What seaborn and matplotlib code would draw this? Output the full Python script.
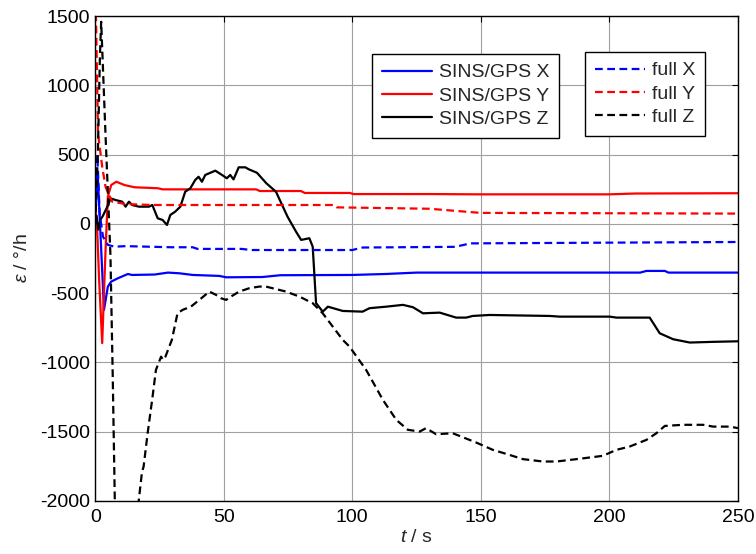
import numpy as np
import pandas as pd
import matplotlib
matplotlib.use("Agg")
import matplotlib.pyplot as plt
import seaborn as sns

# Drift estimate of the gyro bias, SINS/GPS filter vs. full-state filter
sins_x_t = [0, 0.5, 0.9, 1.6, 3.4, 4.9, 6.2, 8.8, 12.7, 14.3, 23.1, 28.3, 32.7, 37.9,
            48.3, 50.9, 65, 72, 100, 113, 125, 212, 214.4, 221.6, 223, 250]
sins_x_v = [-20, 250, 380, 100, -620, -452, -416, -392, -361, -368, -365, -351, -356, -368,
            -375, -385, -383, -370, -368, -361, -351, -351, -339, -339, -351, -351]

sins_y_t = [0, 0.6, 1.5, 2.7, 4.0, 4.9, 6.2, 8.2, 11.4, 15.3, 24.4, 26.2, 62.6, 64,
            80, 81.5, 99, 100.5, 130, 150, 200, 210, 250]
sins_y_v = [100, 30, -400, -860, -190, 197, 281, 305, 281, 265, 258, 250, 250, 238,
            238, 224, 224, 216, 216, 214, 214, 220, 222]

sins_z_t = [0, 0.5, 1.2, 2.0, 3.0, 4.7, 6.0, 7.9, 10.5, 11.8, 13.1, 14.4, 17, 20.9, 22.2,
            24.3, 26.2, 27.9, 29.2, 31.1, 33.1, 35, 37, 38.9, 40.2, 41.5, 42.8, 46.7,
            49.3, 51.2, 52.5, 53.8, 55.8, 58.4, 59.7, 62.9, 66.5, 70.3, 74.8, 78.1,
            80.1, 83.3, 84.6, 85.9, 88.5, 90.5, 96.3, 104, 106.7, 113.2, 119.7, 123.6,
            127.5, 134, 140.4, 144.3, 146.9, 153.4, 176.8, 180.7, 200.2, 202.8, 215.7,
            219.6, 224.8, 231.3, 240.4, 250]
sins_z_v = [0, 60, -40, 30, 60, 125, 185, 173, 161, 125, 161, 137, 125, 125, 137,
            41, 29, -7, 65, 89, 125, 233, 258, 318, 341, 305, 354, 385,
            354, 330, 354, 322, 409, 409, 395, 370, 295, 233, 53, -55,
            -115, -103, -164, -571, -633, -597, -628, -633, -608, -597, -584, -601,
            -645, -640, -676, -676, -664, -657, -664, -669, -669, -676, -676,
            -789, -832, -856, -851, -847]

full_x_t = [0, 0.4, 0.8, 1.7, 3.0, 4.9, 7.5, 11.8, 29.6, 37.9, 39.8, 57, 60.6, 100,
            104, 140, 146, 250]
full_x_v = [0, 300, 500, 77, -91, -151, -164, -160, -168, -168, -180, -180, -188, -188,
            -170, -165, -140, -130]

full_y_t = [0, 0.3, 1.1, 2.7, 4.0, 5.3, 6.6, 11.8, 22, 93, 94, 130, 150, 250]
full_y_v = [1520, 1480, 650, 413, 269, 209, 161, 144, 137, 137, 120, 110, 80, 75]

full_z_t = [0, 1.0, 1.8, 2.3, 4.0, 5.9, 6.8, 7.6, 8.5, 12, 15.5, 16.9, 18.2, 18.8, 20.4,
            22.3, 23.6, 25.6, 26.4, 27.3, 29.8, 32, 34, 37.2, 40.5, 44.4, 47, 48.9,
            50.9, 52.8, 56, 59.9, 63.8, 66.4, 74.2, 79.4, 84.6, 88.5, 92.4, 96.3, 98.9,
            105.4, 111.9, 117.1, 121.6, 126.2, 128.7, 132.6, 139.1, 148.2, 154.7,
            159.9, 166.4, 174.2, 179.4, 187.2, 197.5, 202.7, 207.9, 214.4, 218.3,
            221.6, 228.7, 236.5, 240.4, 246.9, 250]
full_z_v = [0, 500, 1200, 1460, 640, -220, -1100, -1990, -2700, -2900, -2300, -2000,
            -1787, -1753, -1508, -1246, -1054, -958, -981, -958, -837, -645, -620, -597,
            -548, -488, -512, -536, -548, -524, -488, -464, -452, -452, -488, -524,
            -572, -645, -741, -837, -885, -1054, -1270, -1414, -1486, -1499, -1474,
            -1518, -1511, -1578, -1631, -1660, -1698, -1715, -1715, -1698, -1674,
            -1631, -1607, -1559, -1511, -1458, -1450, -1450, -1463, -1463, -1474]

x_ticks = [0, 50, 100, 150, 200, 250]
y_ticks = [-2000, -1500, -1000, -500, 0, 500, 1000, 1500]

series = [
    ("SINS/GPS X", sins_x_t, sins_x_v, "#0000ff", ""),
    ("SINS/GPS Y", sins_y_t, sins_y_v, "#ff0000", ""),
    ("SINS/GPS Z", sins_z_t, sins_z_v, "#000000", ""),
    ("full X", full_x_t, full_x_v, "#0000ff", (3.5, 2)),
    ("full Y", full_y_t, full_y_v, "#ff0000", (3.5, 2)),
    ("full Z", full_z_t, full_z_v, "#000000", (3.5, 2)),
]

frames = [pd.DataFrame({"t": t, "eps": v, "series": name}) for name, t, v, _, _ in series]
df = pd.concat(frames, ignore_index=True)

sns.set_theme(style="white")
plt.rcParams["font.family"] = ["Liberation Sans", "DejaVu Sans"]
plt.rcParams["mathtext.fontset"] = "custom"
plt.rcParams["mathtext.it"] = "Liberation Sans:italic"
plt.rcParams["mathtext.rm"] = "Liberation Sans"
plt.rcParams["axes.unicode_minus"] = False

fig = plt.figure(figsize=(7.56, 5.54), dpi=100)
ax = fig.add_axes([0.126, 0.0957, 0.85, 0.875])

palette = {name: c for name, _, _, c, _ in series}
dashes = {name: d for name, _, _, _, d in series}
sns.lineplot(data=df, x="t", y="eps", hue="series", style="series",
             hue_order=[s[0] for s in series], style_order=[s[0] for s in series],
             palette=palette, dashes=dashes, estimator=None, sort=False,
             linewidth=1.6, legend=False, ax=ax)

ax.set_xlim(0, 250)
ax.set_ylim(-2000, 1500)
ax.set_xticks(x_ticks)
ax.set_yticks(y_ticks)
ax.grid(True, color="#a0a0a0", linewidth=0.8)
ax.set_axisbelow(True)
for sp in ax.spines.values():
    sp.set_visible(True)
    sp.set_color("black")
    sp.set_linewidth(1.0)
ax.tick_params(direction="in", length=4, width=0.8, top=True, right=True,
               labelsize=14, colors="black")
ax.tick_params(axis="x", pad=6)
ax.tick_params(axis="y", pad=4)
ax.set_xlabel(r"$t$ / s", fontsize=14, labelpad=2)
ax.set_ylabel(r"$\varepsilon$ / °/h", fontsize=14, labelpad=6)

lines = ax.get_lines()
leg_kw = dict(fontsize=14, frameon=True, fancybox=False, shadow=False,
              edgecolor="black", framealpha=1, handlelength=2.6, labelspacing=0.3,
              borderpad=0.5, handletextpad=0.35, borderaxespad=0)
leg1 = fig.legend(lines[:3], [s[0] for s in series[:3]], loc="upper left",
                  bbox_to_anchor=(372 / 756, 1 - 54 / 554), **leg_kw)
leg2 = fig.legend(lines[3:], [s[0] for s in series[3:]], loc="upper left",
                  bbox_to_anchor=(585 / 756, 1 - 52 / 554), **leg_kw)
for lg in (leg1, leg2):
    lg.get_frame().set_linewidth(1.0)

fig.savefig("out.png", dpi=100, facecolor="white")
